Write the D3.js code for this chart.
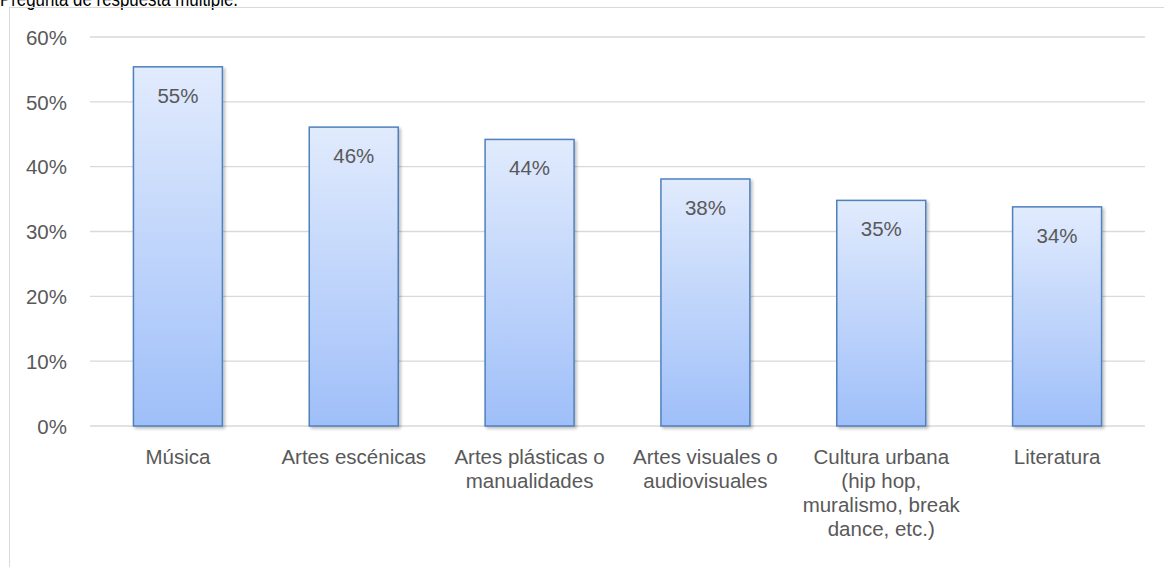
<!DOCTYPE html>
<html>
<head>
<meta charset="utf-8">
<script src="https://cdn.jsdelivr.net/npm/d3@7"></script>
<style>
  html, body { margin: 0; padding: 0; background: #fff; overflow: hidden; }
  svg { display: block; font-family: "Liberation Sans", Arial, sans-serif; }
</style>
</head>
<body>
<svg id="chart" width="1164" height="567"></svg>
<script>
// data
const categories = [
  ['Música'],
  ['Artes escénicas'],
  ['Artes plásticas o', 'manualidades'],
  ['Artes visuales o', 'audiovisuales'],
  ['Cultura urbana', '(hip hop,', 'muralismo, break', 'dance, etc.)'],
  ['Literatura']
];
const values = [0.554, 0.461, 0.442, 0.381, 0.348, 0.338];
const yTicks = [0, 0.1, 0.2, 0.3, 0.4, 0.5, 0.6];
const noteText = 'Pregunta de respuesta múltiple.';

const width = 1164, height = 567;
const margin = { left: 90, right: 19, top: 37, bottom: 141 };
const font = '"Liberation Sans", Arial, sans-serif';
const fontSize = 20.5;

const svg = d3.select('#chart');

// gradient + shadow
const defs = svg.append('defs');
const grad = defs.append('linearGradient').attr('id', 'barGrad')
  .attr('x1', 0).attr('y1', 0).attr('x2', 0).attr('y2', 1);
grad.append('stop').attr('offset', '0%').attr('stop-color', '#e1ebfd');
grad.append('stop').attr('offset', '100%').attr('stop-color', '#9fbff9');

const shadow = defs.append('filter').attr('id', 'shadow')
  .attr('x', '-10%').attr('y', '-10%').attr('width', '130%').attr('height', '130%');
shadow.append('feDropShadow').attr('dx', 2).attr('dy', 2).attr('stdDeviation', 1.5)
  .attr('flood-color', '#000').attr('flood-opacity', 0.25);

// note text, cut off at the top like in the source page
svg.append('text').attr('x', 0).attr('y', 6)
  .attr('font-size', 20).attr('fill', '#000')
  .attr('textLength', 238).attr('lengthAdjust', 'spacingAndGlyphs')
  .text(noteText);

// chart border
svg.append('rect').attr('x', 9.5).attr('y', 7.5)
  .attr('width', 1200).attr('height', 600)
  .attr('fill', 'none').attr('stroke', '#d9d9d9').attr('stroke-width', 1);

const x = d3.scaleBand()
  .domain(categories.map((d, i) => i))
  .range([margin.left, width - margin.right])
  .paddingInner(0.494).paddingOuter(0.247);

const y = d3.scaleLinear().domain([0, 0.6])
  .range([height - margin.bottom, margin.top]);

// gridlines
svg.append('g').selectAll('line').data(yTicks).join('line')
  .attr('x1', margin.left).attr('x2', width - margin.right)
  .attr('y1', d => y(d)).attr('y2', d => y(d))
  .attr('stroke', '#d9d9d9').attr('stroke-width', 1.3);

// y axis labels
const yAxis = svg.append('g')
  .attr('transform', `translate(${margin.left - 23},0)`)
  .call(d3.axisLeft(y).tickValues(yTicks).tickFormat(d3.format('.0%')).tickSize(0).tickPadding(0));
yAxis.select('.domain').remove();
yAxis.selectAll('text')
  .attr('font-family', font)
  .attr('font-size', fontSize).attr('fill', '#595959').attr('dy', '0.35em');

// bars
svg.append('g').selectAll('rect').data(values).join('rect')
  .attr('x', (d, i) => x(i))
  .attr('y', d => y(d))
  .attr('width', x.bandwidth())
  .attr('height', d => y(0) - y(d))
  .attr('fill', 'url(#barGrad)')
  .attr('stroke', '#4f81bd').attr('stroke-width', 1.5)
  .attr('filter', 'url(#shadow)');

// value labels
svg.append('g').selectAll('text').data(values).join('text')
  .attr('x', (d, i) => x(i) + x.bandwidth() / 2)
  .attr('y', d => y(d) + 36)
  .attr('text-anchor', 'middle')
  .attr('font-size', fontSize).attr('fill', '#595959')
  .text(d => d3.format('.0%')(d));

// category labels
const cat = svg.append('g').selectAll('text').data(categories).join('text')
  .attr('x', (d, i) => x(i) + x.bandwidth() / 2)
  .attr('y', y(0) + 38)
  .attr('text-anchor', 'middle')
  .attr('font-size', fontSize).attr('fill', '#595959');
cat.selectAll('tspan').data(d => d).join('tspan')
  .attr('x', function() { return this.parentNode.getAttribute('x'); })
  .attr('dy', (d, i) => i === 0 ? 0 : 24)
  .text(d => d);
</script>
</body>
</html>
